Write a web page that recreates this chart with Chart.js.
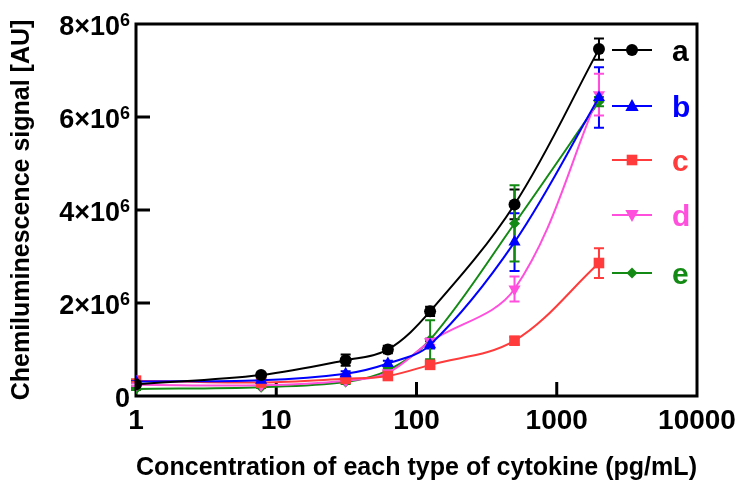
<!DOCTYPE html>
<html>
<head>
<meta charset="utf-8">
<script src="https://cdn.jsdelivr.net/npm/chart.js@4/dist/chart.umd.min.js"></script>
<style>
  html, body { margin:0; padding:0; background:#fff; }
  #wrap { width:750px; height:492px; position:relative; }
</style>
</head>
<body>
<div id="wrap"><canvas id="chart"></canvas></div>
<script>
// concentrations (pg/mL)
const conc = [1, 7.8, 31.25, 62.5, 125, 500, 2000];

// signal per series, in units of 10^6 AU
const sigA = [0.25, 0.45, 0.77, 1.00, 1.82, 4.12, 7.46];
const sigB = [0.31, 0.34, 0.48, 0.70, 1.10, 3.31, 6.42];
const sigC = [0.33, 0.29, 0.37, 0.43, 0.67, 1.19, 2.86];
const sigD = [0.24, 0.23, 0.33, 0.50, 1.17, 2.30, 6.48];
const sigE = [0.15, 0.19, 0.30, 0.55, 1.21, 3.71, 6.33];

// error bars (±), same units
const errA = [0.05, 0.05, 0.12, 0.08, 0.10, 0.32, 0.23];
const errB = [0.03, 0.03, 0.05, 0.06, 0.08, 0.62, 0.65];
const errC = [0.03, 0.03, 0.03, 0.04, 0.05, 0.08, 0.32];
const errD = [0.03, 0.03, 0.04, 0.05, 0.07, 0.27, 0.45];
const errE = [0.02, 0.02, 0.04, 0.05, 0.42, 0.82, 0.10];

const seriesNames = ['a', 'b', 'c', 'd', 'e'];
const xTicks = [1, 10, 100, 1000, 10000];
const yTicks = [0, 2e6, 4e6, 6e6, 8e6];

const FONT = "'Liberation Sans', Arial, sans-serif";
const M = 1e6;

const styles = [
  { color:'#000000', point:'circle',   r:6,   rot:0 },
  { color:'#0000ff', point:'triangle', r:7,   rot:0 },
  { color:'#ff3b3b', point:'rect',     r:7.5, rot:0 },
  { color:'#ff4fdc', point:'triangle', r:7,   rot:180 },
  { color:'#138a13', point:'rectRot',  r:5.5, rot:0 }
];
const sigs = [sigA, sigB, sigC, sigD, sigE];
const errs = [errA, errB, errC, errD, errE];

function drawMarker(ctx, st, x, y) {
  const r = st.r;
  ctx.save();
  ctx.fillStyle = st.color;
  ctx.translate(x, y);
  ctx.rotate(st.rot * Math.PI / 180);
  ctx.beginPath();
  if (st.point === 'circle') {
    ctx.arc(0, 0, r, 0, Math.PI * 2);
  } else if (st.point === 'triangle') {
    ctx.moveTo(0, -r);
    ctx.lineTo(r * 0.95, r * 0.7);
    ctx.lineTo(-r * 0.95, r * 0.7);
    ctx.closePath();
  } else if (st.point === 'rect') {
    const s = r * Math.SQRT1_2;
    ctx.rect(-s, -s, 2 * s, 2 * s);
  } else if (st.point === 'rectRot') {
    ctx.moveTo(0, -r); ctx.lineTo(r, 0); ctx.lineTo(0, r); ctx.lineTo(-r, 0);
    ctx.closePath();
  }
  ctx.fill();
  ctx.restore();
}

const frameAndErrors = {
  id: 'frameAndErrors',
  beforeDatasetsDraw(chart) {
    const { ctx, chartArea: a, scales: { x, y } } = chart;
    ctx.save();
    // error bars
    ctx.lineWidth = 2;
    chart.data.datasets.forEach((ds, i) => {
      const meta = chart.getDatasetMeta(i);
      ctx.strokeStyle = styles[i].color;
      meta.data.forEach((pt, j) => {
        const v = sigs[i][j] * M, e = errs[i][j] * M;
        const yt = y.getPixelForValue(v + e), yb = y.getPixelForValue(v - e);
        ctx.beginPath();
        ctx.moveTo(pt.x, yt); ctx.lineTo(pt.x, yb);
        ctx.moveTo(pt.x - 5, yt); ctx.lineTo(pt.x + 5, yt);
        ctx.moveTo(pt.x - 5, yb); ctx.lineTo(pt.x + 5, yb);
        ctx.stroke();
      });
    });
    // frame
    ctx.strokeStyle = '#000';
    ctx.lineWidth = 3;
    ctx.strokeRect(a.left, a.top, a.right - a.left, a.bottom - a.top);
    // inward ticks
    ctx.beginPath();
    xTicks.slice(1, -1).forEach(v => {
      const px = x.getPixelForValue(v);
      ctx.moveTo(px, a.bottom); ctx.lineTo(px, a.bottom - 14);
    });
    yTicks.slice(1, -1).forEach(v => {
      const py = y.getPixelForValue(v);
      ctx.moveTo(a.left, py); ctx.lineTo(a.left + 14, py);
    });
    ctx.stroke();

    // y tick labels with a real superscript exponent
    ctx.fillStyle = '#000';
    const right = a.left - 6;
    yTicks.forEach(v => {
      const py = y.getPixelForValue(v);
      if (v === 0) {
        ctx.font = `bold 27px ${FONT}`;
        ctx.textAlign = 'right';
        ctx.textBaseline = 'alphabetic';
        ctx.fillText('0', right, py + 11);
        return;
      }
      ctx.font = `bold 18px ${FONT}`;
      ctx.textAlign = 'right';
      ctx.textBaseline = 'alphabetic';
      const expW = ctx.measureText('6').width;
      ctx.fillText('6', right, py + 2);
      ctx.font = `bold 27px ${FONT}`;
      ctx.fillText(`${v / M}×10`, right - expW, py + 11);
    });
    ctx.restore();
  },
  afterDatasetsDraw(chart) {
    const { ctx } = chart;
    ctx.save();
    const legendY = [50, 106, 160, 215, 273];
    styles.forEach((st, i) => {
      const ly = legendY[i];
      ctx.strokeStyle = st.color;
      ctx.lineWidth = 2;
      ctx.beginPath();
      ctx.moveTo(612, ly); ctx.lineTo(652, ly);
      ctx.stroke();
      drawMarker(ctx, st, 632, ly);
      ctx.fillStyle = st.color;
      ctx.font = `bold 30px ${FONT}`;
      ctx.textBaseline = 'alphabetic';
      ctx.fillText(seriesNames[i], 672, ly + 11);
    });
    ctx.restore();
  }
};

const datasets = sigs.map((s, i) => ({
  label: seriesNames[i],
  data: conc.map((c, j) => ({ x: c, y: s[j] * M })),
  borderColor: styles[i].color,
  backgroundColor: styles[i].color,
  borderWidth: 2,
  pointStyle: styles[i].point,
  pointRadius: styles[i].r,
  pointRotation: styles[i].rot,
  pointBorderWidth: 0,
  tension: 0.35,
  fill: false
}));

new Chart(document.getElementById('chart'), {
  type: 'line',
  data: { datasets },
  plugins: [frameAndErrors],
  options: {
    responsive: true,
    maintainAspectRatio: false,
    animation: false,
    layout: { padding: { left:0, top:24, right:53, bottom:0 } },
    plugins: { legend: { display:false }, tooltip: { enabled:false } },
    scales: {
      x: {
        type: 'logarithmic', min: 1, max: 10000,
        grid: { display:false, drawTicks:false },
        border: { display:false },
        afterFit: s => { s.height = 96; },
        afterBuildTicks: s => { s.ticks = xTicks.map(v => ({ value:v })); },
        ticks: {
          autoSkip: false, maxRotation: 0, padding: 8,
          color: '#000', font: { family: FONT, size: 28, weight: 'bold' },
          callback: v => String(v)
        },
        title: {
          display: true, text: 'Concentration of each type of cytokine (pg/mL)',
          color: '#000', font: { family: FONT, size: 26, weight: 'bold' },
          padding: { top:0, bottom:9 }
        }
      },
      y: {
        min: 0, max: 8e6,
        grid: { display:false, drawTicks:false },
        border: { display:false },
        afterFit: s => { s.width = 136; },
        afterBuildTicks: s => { s.ticks = yTicks.map(v => ({ value:v })); },
        ticks: { display: false },
        title: {
          display: true, text: 'Chemiluminescence signal [AU]',
          color: '#000', font: { family: FONT, size: 25, weight: 'bold' },
          padding: { top:7, bottom:0 }
        }
      }
    }
  }
});
</script>
</body>
</html>
